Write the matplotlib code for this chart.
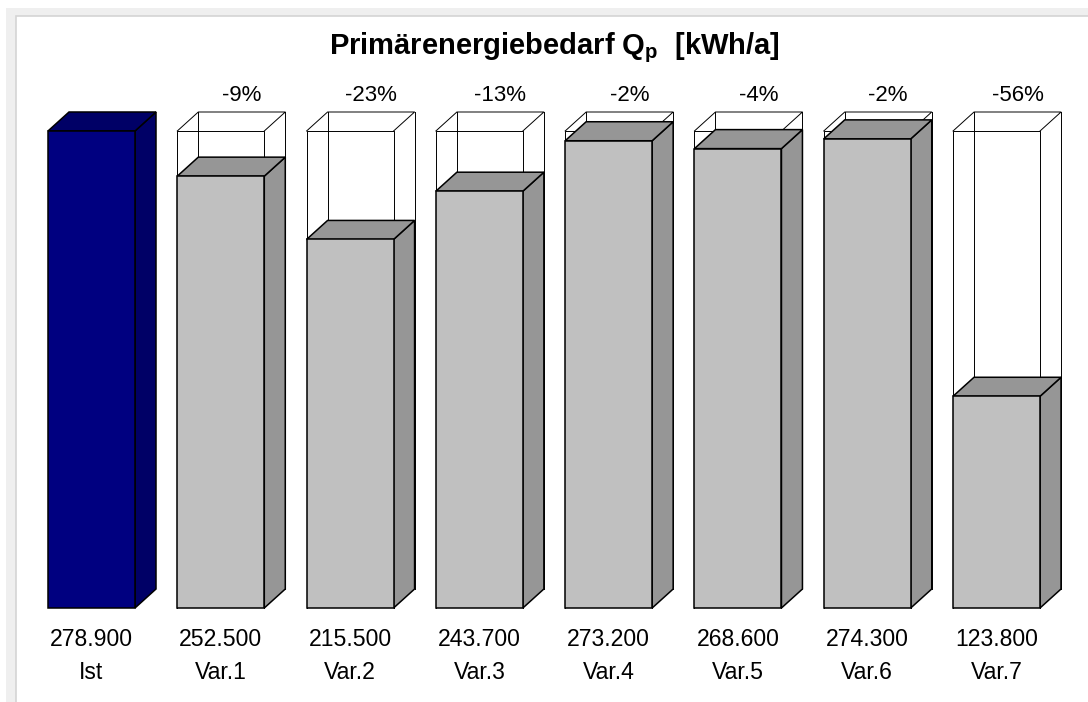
import matplotlib
matplotlib.use("Agg")
import matplotlib.pyplot as plt
from matplotlib.patches import Polygon, Rectangle

# Primärenergiebedarf je Variante (kWh/a)
categories = ["Ist", "Var.1", "Var.2", "Var.3", "Var.4", "Var.5", "Var.6", "Var.7"]
values = [278900, 252500, 215500, 243700, 273200, 268600, 274300, 123800]

TITLE = "Primärenergiebedarf Q$_\\mathregular{p}$  [kWh/a]"

FRONT_IST, SHADE_IST = "#000080", "#000066"
FRONT_VAR, SHADE_VAR = "#c0c0c0", "#969696"

W, H, DPI = 1088, 702, 100
SPACING_PX = 129.29      # pixel distance between bars
PX_PER_UNIT = 477 / 278900
BASE_PX = 94             # baseline height above the bottom edge
WIDTH = 87 / SPACING_PX  # bar width in category units
DX = 21 / SPACING_PX     # depth offset to the right
DY = 19 / PX_PER_UNIT    # depth offset upwards

plt.rcParams["font.family"] = ["Liberation Sans", "DejaVu Sans"]
plt.rcParams["mathtext.fontset"] = "custom"
plt.rcParams["mathtext.rm"] = "Liberation Sans"

fig = plt.figure(figsize=(W / DPI, H / DPI), dpi=DPI)
fig.patch.set_facecolor("white")

# window-like frame: grey band with a white panel inside
fig.patches.append(Rectangle((6 / W, -0.1), 1.2, (H - 8) / H + 0.1,
                             transform=fig.transFigure, facecolor="#efefef",
                             edgecolor="none", zorder=-10))
fig.patches.append(Rectangle((16 / W, -0.1), 1.2, (H - 16) / H + 0.1,
                             transform=fig.transFigure, facecolor="white",
                             edgecolor="#d4d4d4", lw=1.2, zorder=-9))

ax = fig.add_axes([0, 0, 1, 1])
ax.axis("off")
ax.patch.set_visible(False)
x0_px = 48 + WIDTH * SPACING_PX / 2
ax.set_xlim(-x0_px / SPACING_PX, (W - x0_px) / SPACING_PX)
ax.set_ylim(-BASE_PX / PX_PER_UNIT, (H - BASE_PX) / PX_PER_UNIT)

ref = values[0]


def box_faces(xc, v):
    l, r = xc - WIDTH / 2, xc + WIDTH / 2
    top = [(l, v), (r, v), (r + DX, v + DY), (l + DX, v + DY)]
    side = [(r, 0), (r + DX, DY), (r + DX, v + DY), (r, v)]
    return top, side


for i, (cat, v) in enumerate(zip(categories, values)):
    l, r = i - WIDTH / 2, i + WIDTH / 2
    if i > 0:
        # wireframe of the reference bar behind each variant
        edges = [
            [(l, 0), (l, ref), (r, ref), (r, 0)],
            [(l, ref), (l + DX, ref + DY), (r + DX, ref + DY), (r, ref)],
            [(l + DX, DY), (l + DX, ref + DY)],
            [(r + DX, DY), (r + DX, ref + DY)],
        ]
        for e in edges:
            xs, ys = zip(*e)
            ax.plot(xs, ys, color="black", lw=0.7, zorder=1)
        pct = round((v - ref) / ref * 100)
        ax.annotate(f"{pct}%", xy=(i + DX, ref + DY), xytext=(0, 8),
                    textcoords="offset points", ha="center", va="baseline",
                    fontsize=16)

    front, shade = (FRONT_IST, SHADE_IST) if i == 0 else (FRONT_VAR, SHADE_VAR)
    top, side = box_faces(i, v)
    ax.add_patch(Polygon(side, closed=True, facecolor=shade, edgecolor="black",
                         lw=1.1, zorder=3, joinstyle="miter"))
    ax.add_patch(Polygon(top, closed=True, facecolor=shade, edgecolor="black",
                         lw=1.1, zorder=3, joinstyle="miter"))
    ax.bar(i, v, width=WIDTH, color=front, edgecolor="black", lw=1.1, zorder=4)

    label = f"{v:,}".replace(",", ".")
    ax.annotate(label, xy=(i, 0), xytext=(0, -27.5), textcoords="offset points",
                ha="center", va="baseline", fontsize=16.6)
    ax.annotate(cat, xy=(i, 0), xytext=(0, -51), textcoords="offset points",
                ha="center", va="baseline", fontsize=16.6)

fig.text(554 / W, 1 - 54 / H, TITLE, ha="center", va="baseline",
         fontsize=21, fontweight="bold")

fig.savefig("out.png", dpi=DPI)
